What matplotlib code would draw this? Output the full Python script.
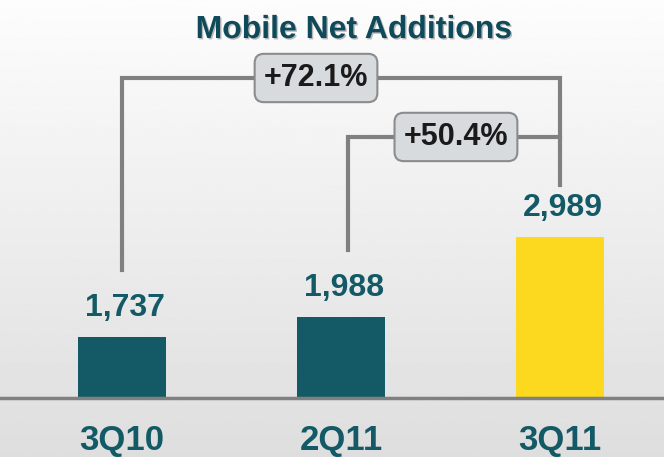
import matplotlib
matplotlib.use("Agg")
import matplotlib.pyplot as plt
import matplotlib.patheffects as pe
import numpy as np

# chart data
quarters = ["3Q10", "2Q11", "3Q11"]
net_adds = [1737, 1988, 2989]
growth_labels = ["+72.1%", "+50.4%"]

plt.rcParams["font.family"] = ["Liberation Sans", "DejaVu Sans"]

teal = "#135a66"
yellow = "#fcd91e"
line_gray = "#808080"

fig = plt.figure(figsize=(6.64, 4.57), dpi=100)
ax = fig.add_axes([0, 0, 1, 1])
ax.set_xlim(-0.557, 2.475)
ax.set_ylim(236, 5955)
ax.axis("off")

# background gradient, light grey at top fading to white
grad = np.linspace(0.87, 0.99, 256).reshape(-1, 1)
ax.imshow(grad, cmap="gray", vmin=0, vmax=1, aspect="auto",
          extent=[-0.557, 2.475, 5955, 236], zorder=0)
ax.set_ylim(236, 5955)

base = 974
x = np.arange(len(quarters))
colors = [teal, teal, yellow]
bars = ax.bar(x, np.array(net_adds) - base, bottom=base, width=0.4,
              color=colors, zorder=2)

# baseline
ax.axhline(base, color=line_gray, lw=2.5, zorder=3)

# value labels above bars
for xi, v in zip(x, net_adds):
    ax.annotate(f"{v:,}", (xi, v), xytext=(2, 21), textcoords="offset points",
                ha="center", va="center", fontsize=23, fontweight="bold",
                color=teal, zorder=4)

# category labels below baseline
for xi, q in zip(x, quarters):
    ax.text(xi, 0.037, q, transform=ax.get_xaxis_transform(),
            ha="center", va="center", fontsize=25, fontweight="bold",
            color=teal, zorder=4)

# growth brackets
outer_y, inner_y = 4979, 4241
ax.plot([0, 0, 2, 2], [2576, outer_y, outer_y, 3640],
        color=line_gray, lw=3, zorder=1.5, solid_joinstyle="miter")
ax.plot([1.03, 1.03, 2], [2826, inner_y, inner_y],
        color=line_gray, lw=3, zorder=1.5, solid_joinstyle="miter")

box = dict(boxstyle="round,pad=0.3,rounding_size=0.3", fc="#d8dbde",
           ec="#8c8c8c", lw=1.5)
ax.text(0.886, outer_y, growth_labels[0], ha="center", va="center",
        fontsize=22, fontweight="bold", color="#1a1a1a", bbox=box, zorder=5)
ax.text(1.525, inner_y, growth_labels[1], ha="center", va="center",
        fontsize=22, fontweight="bold", color="#1a1a1a", bbox=box, zorder=5)

# title
ax.text(0.533, 1 - 30 / 457, "Mobile Net Additions", transform=ax.transAxes,
        ha="center", va="center", fontsize=23, fontweight="bold",
        color="#0f4a5a", zorder=5,
        path_effects=[pe.withSimplePatchShadow(offset=(1, -1),
                                               shadow_rgbFace="#777777",
                                               alpha=0.5)])

fig.savefig("out.png", dpi=100)
